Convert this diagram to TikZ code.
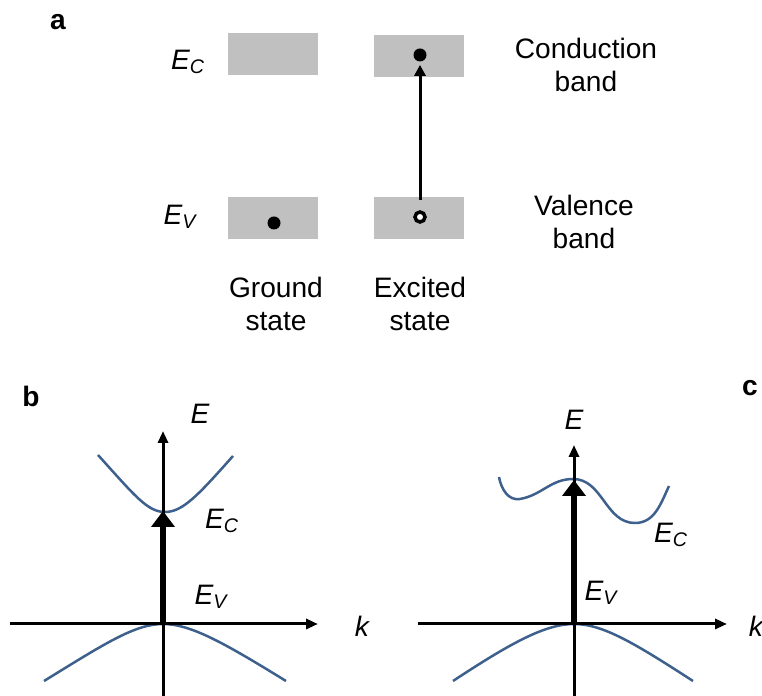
\documentclass[tikz,border=0pt]{standalone}
\usepackage{fontspec}
\setmainfont{Liberation Sans}
\usepackage{tikz}
\usetikzlibrary{arrows.meta,positioning,calc}

\definecolor{bandgrey}{RGB}{192,192,192}
\definecolor{bandblue}{RGB}{61,96,141}

\begin{document}
\begin{tikzpicture}[
  x=1cm,y=1cm,
  bandbox/.style={fill=bandgrey, minimum width=1.8cm, minimum height=0.84cm, inner sep=0pt},
  edot/.style={circle, fill=black, minimum size=0.26cm, inner sep=0pt},
  hole/.style={circle, draw=black, fill=white, line width=0.07cm, minimum size=0.2cm, inner sep=0pt},
  txt/.style={align=center, font=\fontsize{16}{18.8}\selectfont, inner sep=0pt},
  lbl/.style={font=\fontsize{16}{18.8}\selectfont\itshape, inner sep=0pt},
  panel/.style={font=\fontsize{16}{18.8}\selectfont\bfseries, inner sep=0pt},
  arr/.style={-{Triangle[length=0.22cm,width=0.22cm]}, line width=0.06cm},
  axis/.style={-{Triangle[length=0.24cm,width=0.2cm]}, line width=0.06cm},
  jump/.style={-{Triangle[length=0.32cm,width=0.46cm]}, line width=0.12cm},
  curve/.style={draw=bandblue, line width=0.05cm}
]
\useasboundingbox (0,0) rectangle (15.24,13.92);

% a: band picture
\node[panel] (pa) at (1.16,13.48) {a};
\node[bandbox] (gc) at (5.46,12.84) {};
\node[bandbox] (gv) at (5.46,9.55) {};
\node[bandbox] (xc) at (8.38,12.80) {};
\node[bandbox] (xv) at (8.38,9.55) {};
\node[edot] (e1) at (5.48,9.46) {};
\node[edot] (e2) at (8.40,12.82) {};
\node[hole] (h1) at (8.40,9.58) {};
\draw[arr, shorten <=0.2cm, shorten >=0.06cm] (h1) -- (e2);
\node[lbl] (ecA) at (3.76,12.68) {E\textsubscript{C}};
\node[lbl] (evA) at (3.60,9.58) {E\textsubscript{V}};
\node[txt] (cb) at (11.72,12.62) {Conduction\\band};
\node[txt] (vb) at (11.68,9.48) {Valence\\band};
\node[txt] (gs) at (5.52,7.84) {Ground\\state};
\node[txt] (xs) at (8.40,7.84) {Excited\\state};

% b: direct gap
\node[panel] (pb) at (0.62,6.00) {b};
\coordinate (bo) at (3.26,1.44);
\coordinate (bxl) at (0.20,1.44);
\coordinate (bxr) at (6.36,1.44);
\coordinate (byb) at (3.26,0);
\coordinate (byt) at (3.26,5.30);
\coordinate (bec) at (3.26,3.70);
\draw[curve] (1.96,4.82) .. controls (2.70,4.00) and (2.95,3.68) .. (3.30,3.68)
  .. controls (3.65,3.68) and (3.95,4.00) .. (4.66,4.80);
\draw[curve] (0.88,0.30) .. controls (2.10,1.05) and (2.70,1.44) .. (3.26,1.44)
  .. controls (3.82,1.44) and (4.50,1.05) .. (5.72,0.30);
\draw[axis] (bxl) -- (bxr);
\draw[axis] (byb) -- (byt);
\draw[jump] (bo) -- (bec);
\node[lbl] (bE) at (4.00,5.64) {E};
\node[lbl] (bk) at (7.24,1.40) {k};
\node[lbl] (bC) at (4.44,3.50) {E\textsubscript{C}};
\node[lbl] (bV) at (4.22,1.98) {E\textsubscript{V}};

% c: indirect gap
\node[panel] (pc) at (15.00,6.16) {c};
\coordinate (co) at (11.48,1.44);
\coordinate (cxl) at (8.36,1.44);
\coordinate (cxr) at (14.54,1.44);
\coordinate (cyb) at (11.48,0);
\coordinate (cyt) at (11.48,5.02);
\coordinate (cec) at (11.48,4.32);
\draw[curve] (9.98,4.38) to[out=-80,in=190] (10.40,3.94) to[out=10,in=180] (11.46,4.34)
  to[out=0,in=180] (12.70,3.46) to[out=0,in=-115] (13.38,4.20);
\draw[curve] (9.06,0.30) .. controls (10.20,1.05) and (10.90,1.44) .. (11.48,1.44)
  .. controls (12.06,1.44) and (12.70,1.05) .. (13.86,0.30);
\draw[axis] (cxl) -- (cxr);
\draw[axis] (cyb) -- (cyt);
\draw[jump] (co) -- (cec);
\node[lbl] (cE) at (11.48,5.52) {E};
\node[lbl] (ck) at (15.12,1.40) {k};
\node[lbl] (cC) at (13.42,3.22) {E\textsubscript{C}};
\node[lbl] (cV) at (12.02,2.06) {E\textsubscript{V}};
\end{tikzpicture}
\end{document}
